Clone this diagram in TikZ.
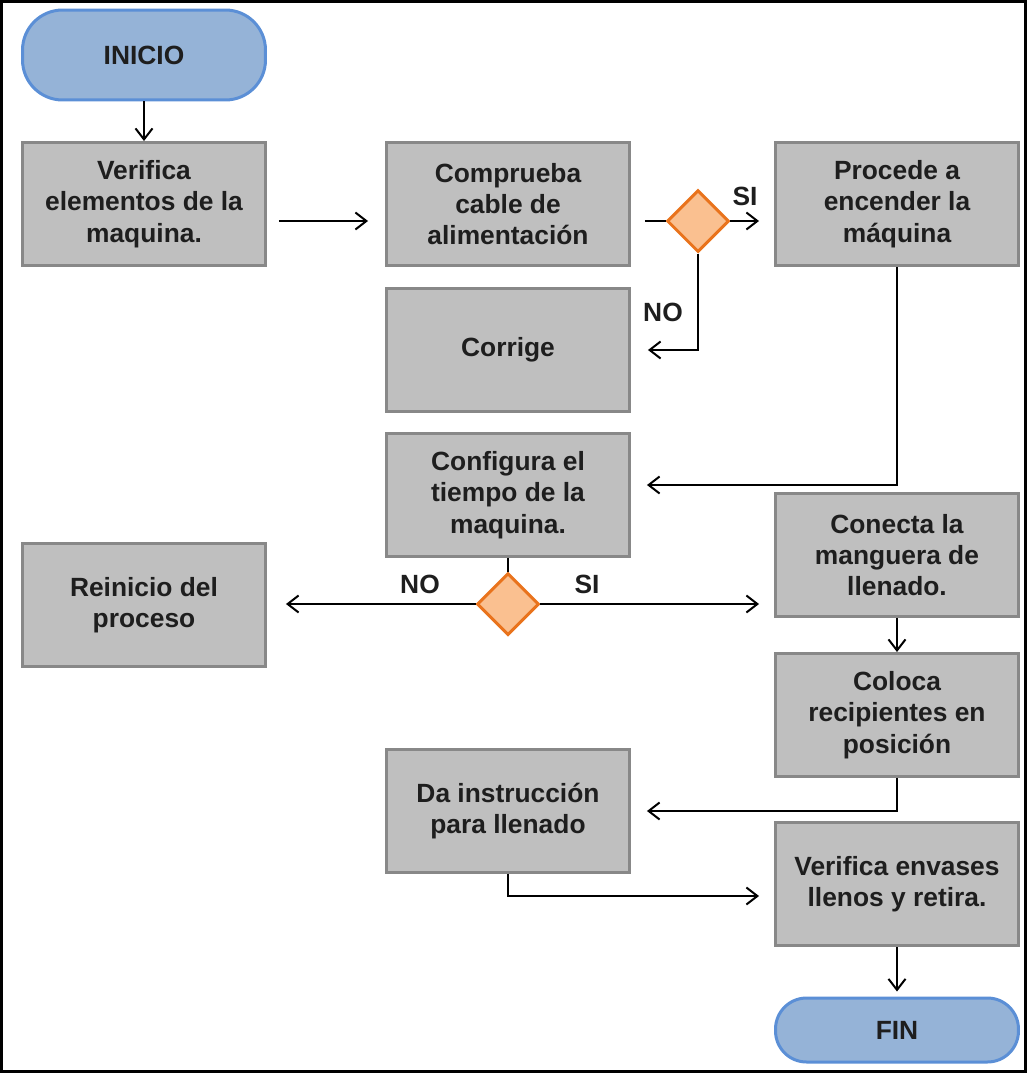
\documentclass[tikz,border=0pt]{standalone}
\usepackage{fontspec}
\setmainfont{Liberation Sans}
\usetikzlibrary{arrows.meta,shapes.geometric}
\definecolor{boxfill}{HTML}{BFBFBF}
\definecolor{boxline}{HTML}{888888}
\definecolor{termfill}{HTML}{95B3D7}
\definecolor{termline}{HTML}{5B8FD6}
\definecolor{decfill}{HTML}{FAC090}
\definecolor{decline}{HTML}{E9731C}
\definecolor{txt}{HTML}{1E1E1E}
\begin{document}
\begin{tikzpicture}[x=0.02cm,y=-0.02cm]
\tikzstyle{every node}+=[font=\bfseries\fontsize{15}{17.8}\selectfont, text=txt, align=center]
\tikzstyle{proc}=[draw=boxline, fill=boxfill, line width=0.06cm, minimum width=4.86cm, minimum height=2.46cm, inner sep=0pt]
\tikzstyle{term}=[draw=termline, fill=termfill, line width=0.06cm, minimum width=4.86cm, inner sep=0pt]
\tikzstyle{dec}=[diamond, draw=decline, fill=decfill, line width=0.06cm, minimum width=1.24cm, minimum height=1.24cm, inner sep=0pt]
\tikzstyle{link}=[line width=0.04cm]
\tikzstyle{flow}=[link, -{Straight Barb[length=0.22cm,width=0.34cm]}]
\useasboundingbox (0,0) rectangle (1027,1073);
\draw [black, line width=0.06cm] (1.5,1.5) rectangle (1025.5,1071.5);
% first row
\node [term, minimum height=1.8cm, rounded corners=0.8cm] (inicio) at (144,55) {INICIO};
\node [proc] (verif) at (144,204) {Verifica\\elementos de la\\maquina.};
\node [proc] (compr) at (508,204) {Comprueba\\cable de\\alimentación};
\node [dec] (dec1) at (698,221) {};
\node [proc] (encender) at (897,204) {Procede a\\encender la\\máquina};
\node [proc] (corrige) at (508,350) {Corrige};
\node [proc] (config) at (508,495) {Configura el\\tiempo de la\\maquina.};
% second decision
\node [dec] (dec2) at (508,604) {};
\node [proc] (reinicio) at (144,605) {Reinicio del\\proceso};
\node [proc] (conecta) at (897,555) {Conecta la\\manguera de\\llenado.};
\node [proc] (coloca) at (897,715) {Coloca\\recipientes en\\posición};
\node [proc] (instr) at (508,811) {Da instrucción\\para llenado};
\node [proc] (verenv) at (897,884) {Verifica envases\\llenos y retira.};
\node [term, minimum height=1.28cm, rounded corners=0.62cm] (fin) at (897,1030) {FIN};
% labels
\node (si1) at (745,196) {SI};
\node (no1) at (663,312) {NO};
\node (no2) at (420,584) {NO};
\node (si2) at (587,584) {SI};
% connectors
\draw [flow] (inicio) -- (verif);
\draw [flow, shorten <=0.24cm, shorten >=0.34cm] (verif.east |- dec1) -- (compr.west |- dec1);
\draw [link, shorten <=0.28cm] (compr.east |- dec1) -- (dec1.west);
\draw [flow, shorten >=0.3cm] (dec1.east) -- (encender.west |- dec1);
\draw [flow, shorten >=0.34cm] (dec1.south) |- (corrige.east);
\draw [flow, shorten >=0.32cm] (encender.south) |- ([yshift=0.2cm]config.east);
\draw [link] (config) -- (dec2);
\draw [flow, shorten >=0.38cm] (dec2.west) -- (reinicio.east |- dec2);
\draw [flow, shorten >=0.3cm] (dec2.east) -- (conecta.west |- dec2);
\draw [flow] (conecta) -- (coloca);
\draw [flow, shorten >=0.32cm] (coloca.south) |- (instr.east);
\draw [flow, shorten >=0.3cm] (instr.south) |- ([yshift=-0.24cm]verenv.west);
\draw [flow, shorten >=0.1cm] (verenv) -- (fin);
\end{tikzpicture}
\end{document}
